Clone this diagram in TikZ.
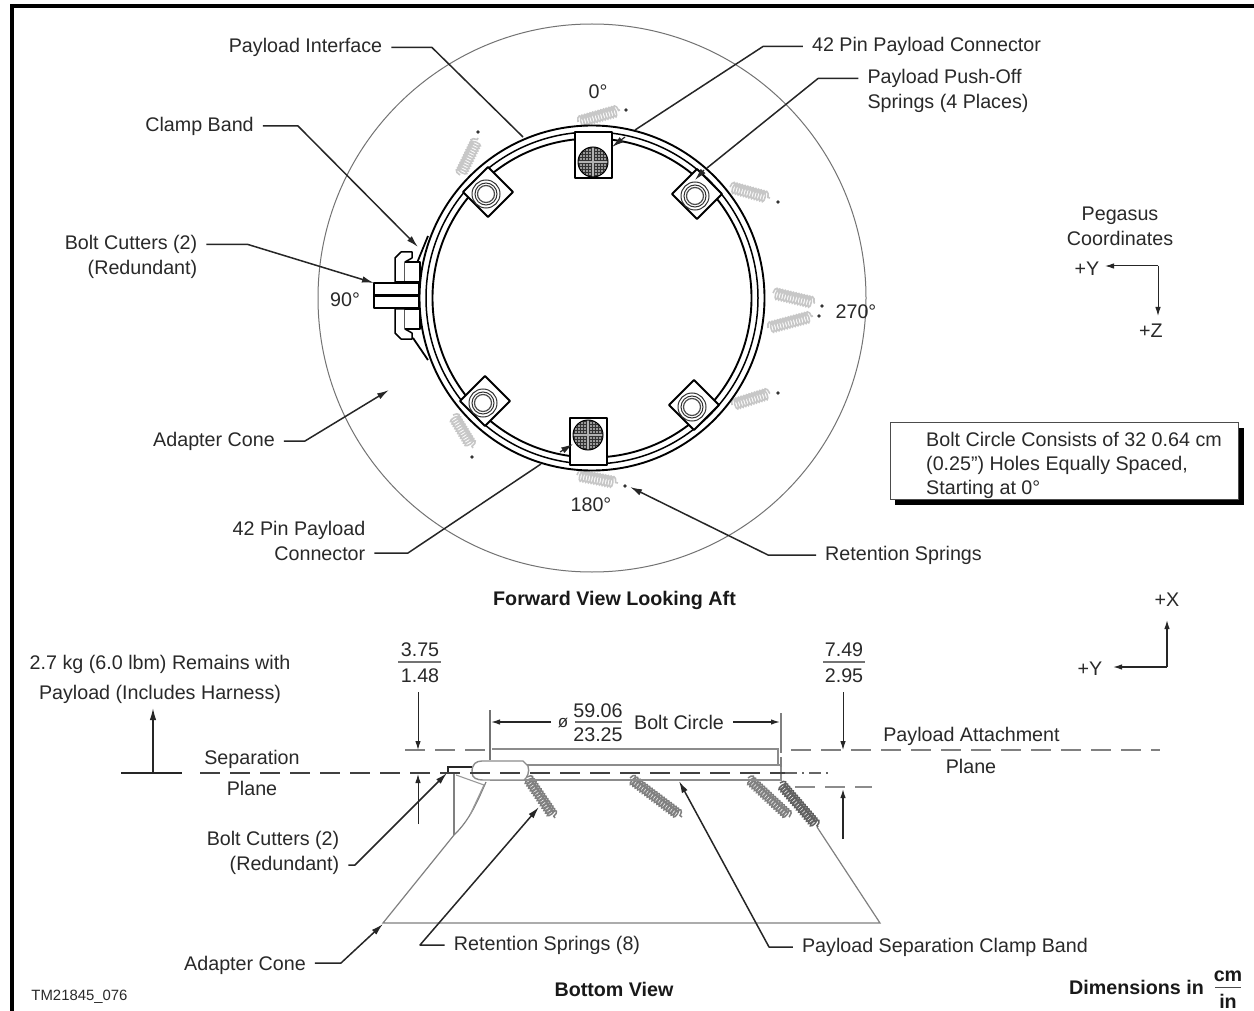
\documentclass[tikz,border=0pt]{standalone}
\usepackage{fontspec}
\setmainfont{Liberation Sans}
\usetikzlibrary{arrows.meta,decorations.pathmorphing}
\definecolor{ink}{gray}{0.16}
\definecolor{coil}{gray}{0.78}
\tikzset{
  x=1pt,y=-1pt,
  lbl/.style={inner ysep=0pt,inner xsep=9pt,text=ink,align=center,font=\fontsize{19.7}{25}\selectfont},
  bld/.style={inner ysep=0pt,inner xsep=0pt,text=black!90,align=center,font=\bfseries\fontsize{19.7}{25}\selectfont},
  lead/.style={draw=black!85,line width=1.5pt,line join=round},
  ar/.style={lead,-{Latex[length=12pt,width=6.5pt]}},
  thinar/.style={draw=black!85,line width=1pt,-{Latex[length=9pt,width=5.5pt]}},
  ringl/.style={draw=black,line width=1.9pt},
  part/.style={draw=black,line width=1.8pt,fill=white,line join=round},
  lightl/.style={draw=black!45,line width=1.4pt},
  spr/.style={draw=coil,line width=1.6pt,decorate,decoration={coil,aspect=0.4,segment length=2.8pt,amplitude=5.5pt}},
  sprb/.style={draw=black!50,line width=1.5pt,decorate,decoration={coil,aspect=0.4,segment length=3pt,amplitude=5pt}},
  dashk/.style={draw=black!75,line width=1.9pt,dash pattern=on 20pt off 10pt},
  dashg/.style={draw=black!50,line width=1.4pt,dash pattern=on 20pt off 10pt},
  sdot/.style={fill=black!80,draw=none}
}
\newcommand{\rotpad}[2]{%
  \draw[part] (#1-25,#2) -- (#1,#2-25) -- (#1+25,#2) -- (#1,#2+25) -- cycle;
  \draw[draw=black!80,line width=1pt] (#1-2,#2+2) circle[radius=14pt] circle[radius=11pt];
  \draw[draw=black!70,line width=1.2pt] (#1-2,#2+2) circle[radius=8.5pt];
}
\newcommand{\connpad}[6]{%
  \draw[part] (#1,#2) rectangle (#3,#4);
  \begin{scope}
    \clip (#5,#6) circle[radius=15pt];
    \fill[black!40] (#5,#6) circle[radius=15pt];
    \foreach \d in {-14,-11,...,14} {
      \draw[black!80,line width=0.9pt] (#5+\d,#6-16) -- (#5+\d,#6+16);
      \draw[black!80,line width=0.9pt] (#5-16,#6+\d) -- (#5+16,#6+\d);
    }
    \draw[white!70!black,line width=1.2pt] (#5,#6-16) -- (#5,#6+16) (#5-16,#6) -- (#5+16,#6);
  \end{scope}
  \draw[black,line width=1pt] (#5,#6) circle[radius=15pt];
}
\begin{document}
\begin{tikzpicture}
\useasboundingbox (0,0) rectangle (1254,1011);
\fill[white] (0,0) rectangle (1254,1011);
% frame
\draw[black,line width=4.5pt] (12,1011) -- (12,6) -- (1254,6);

% --------- forward view ---------
\coordinate (rc) at (592,298);
\node[draw=black!55,line width=1pt,circle,minimum size=548pt,inner sep=0pt] (cone) at (rc) {};
% springs
\foreach \a/\b/\c/\d/\e/\f in {
  578/122/620/110/626/110,
  460/175/478/138/478/132,
  730/187/770/198/778/202,
  773/293/815/303/822/306,
  768/328/813/316/819/316,
  732/405/770/393/778/393,
  453/415/473/448/472/457,
  577/475/618/483/625/486} {
  \draw[spr] (\a,\b) -- (\c,\d);
  \fill[sdot] (\e,\f) circle[radius=1.8pt];
}
% rings
\draw[ringl] (rc) circle[radius=172.5pt];
\draw[ringl,line width=1.5pt] (rc) circle[radius=166pt];
\draw[ringl] (rc) circle[radius=159.5pt];
% pads
\rotpad{488}{192}
\rotpad{697}{194}
\rotpad{694}{405}
\rotpad{485}{401}
\connpad{575}{132}{612}{178}{593}{162}
\connpad{570}{418}{607}{465}{588}{435}
% bolt cutters
\draw[part,line width=1.8pt] (417,263) -- (428,236) (413,338) -- (428,360);
\draw[part,line width=1.5pt] (395,282) -- (395,258) -- (401,252) -- (412,252) -- (412,258) -- (405,262) -- (405,282) -- cycle;
\draw[part,line width=1.5pt] (405,262) -- (420,262) -- (420,282) -- (405,282);
\draw[part,line width=1.5pt] (395,309) -- (395,333) -- (401,339) -- (412,339) -- (412,333) -- (405,329) -- (405,309) -- cycle;
\draw[part,line width=1.5pt] (405,329) -- (420,329) -- (420,309) -- (405,309);
\draw[part] (374,283) rectangle (419,308);
\draw[black,line width=3.5pt] (374,295.5) -- (419,295.5);
% coordinates at which leaders end
\coordinate (tcutter) at (374,283);
\coordinate (tclamp) at (418,247);
\coordinate (tcone) at (389,390);
\coordinate (tcon1a) at (635,130);
\coordinate (tcon1b) at (625,137);
\coordinate (tcon1) at (612,147);
\coordinate (tpush) at (707,168);
\coordinate (tpushb) at (704,170);
\coordinate (tpushc) at (695,180);
\coordinate (tint) at (523,137);
\coordinate (tcon2a) at (541,464);
\coordinate (tcon2b) at (560,452);
\coordinate (tcon2) at (573,444);
\coordinate (tret) at (630,487);
% labels
\node[lbl] (pi) at (305.5,47.5) {Payload Interface};
\node[lbl] (p42) at (926.5,46.5) {42 Pin Payload Connector};
\node[lbl,align=left] (push) at (948,91) {Payload Push-Off\\Springs (4 Places)};
\node[lbl] (cb) at (199.5,126) {Clamp Band};
\node[lbl,align=right] (bc) at (131,257) {Bolt Cutters (2)\\(Redundant)};
\node[lbl] (ac) at (214,441) {Adapter Cone};
\node[lbl,align=right] (c42) at (299,540.5) {42 Pin Payload\\Connector};
\node[lbl] (rs) at (903.5,555) {Retention Springs};
\node[lbl] (d0) at (598,92) {0°};
\node[lbl] (d90) at (345,300) {90°};
\node[lbl] (d270) at (856,312) {270°};
\node[lbl] (d180) at (591,505) {180°};
% leaders
\draw[lead] (pi.east) -- (432,47.5) -- (tint);
\draw[lead] (p42.west) -- (763,46.5) -- (tcon1a);
\draw[ar,line width=1.2pt] (tcon1b) -- (tcon1);
\draw[lead] ([yshift=12.5pt]push.west) -- (818,78.5) -- (tpush);
\draw[ar,line width=1.2pt] (tpushb) -- (tpushc);
\draw[ar] (cb.east) -- (298,126) -- (tclamp);
\draw[ar] ([yshift=12.5pt]bc.east) -- (248,244.5) -- (tcutter);
\draw[ar] (ac.east) -- (305,441) -- (tcone);
\draw[lead] ([yshift=-12.5pt]c42.east) -- (408,553) -- (tcon2a);
\draw[ar,line width=1.2pt] (tcon2b) -- (tcon2);
\draw[ar] (rs.west) -- (768,555) -- (tret);
\node[bld] (fv) at (614.5,600) {Forward View Looking Aft};

% coordinate legend 1
\node[lbl] (peg) at (1120,226.5) {Pegasus\\Coordinates};
\node[lbl,inner xsep=0pt] (y1) at (1087,269) {+Y};
\node[lbl,inner xsep=0pt] (z1) at (1151,331) {+Z};
\coordinate (k1) at (1158,266);
\coordinate (ky1) at (1105,266);
\coordinate (kz1) at (1158,316);
\draw[thinar] (k1) -- (ky1);
\draw[thinar] (k1) -- (kz1);
% note box
\fill[black] (895,428) rectangle (1244,505);
\node[draw=black!70,line width=1.2pt,fill=white,minimum width=348pt,minimum height=77pt,anchor=north west,inner sep=0pt] (box) at (890,422) {};
\node[lbl,inner xsep=0pt,align=left,anchor=west,font=\fontsize{19.7}{24}\selectfont] (boxt) at (926,465) {Bolt Circle Consists of 32 0.64 cm\\(0.25") Holes Equally Spaced,\\Starting at 0°};

% --------- bottom view ---------
\node[lbl,inner xsep=0pt,font=\fontsize{19.7}{30}\selectfont] (rem) at (160,679) {2.7 kg (6.0 lbm) Remains with\\Payload (Includes Harness)};
\node[lbl] (sep) at (252,759) {Separation};
\node[lbl] (sep2) at (252,788) {Plane};
\coordinate (s1) at (121,773);
\coordinate (s2) at (182,773);
\coordinate (s0) at (153,773);
\coordinate (s3) at (153,708);
\draw[lead] (s1) -- (s2);
\draw[ar] (s0) -- (s3);
% adapter cone
\draw[draw=black!50,line width=1.2pt] (454,835) -- (383,923) -- (880,923) -- (817,827);
\draw[draw=black!50,line width=1.2pt] (454,773) -- (454,835);
\draw[draw=black!50,line width=1.2pt] (454,835) .. controls (470,820) and (478,800) .. (486,782);
\draw[draw=black!40,line width=1.1pt] (456,775) -- (484,785) -- (470,815);
% springs
\draw[sprb] (527,777) -- (555,818);
\draw[sprb] (630,778) -- (682,817);
\draw[sprb] (748,778) -- (790,817);
\draw[sprb,draw=black!62] (780,783) -- (818,827);
% payload band
\draw[lightl] (492,749) -- (778,749) -- (778,765);
\draw[lightl] (527,765) -- (781,765) -- (781,780) -- (490,780);
\draw[lightl,fill=white] (472,772) .. controls (472,764) and (476,761) .. (482,761) -- (523,761) -- (528,766) .. controls (530,772) and (527,778) .. (524,780) -- (484,780) .. controls (476,780) and (472,778) .. (472,772) -- cycle;
\draw[black!85,line width=1.4pt] (448,773) -- (448,767) -- (472,767);
% planes
\draw[dashg] (405,750) -- (485,750);
\draw[dashg] (791,750) -- (1160,750);
\draw[dashk] (200,773) -- (785,773);
\draw[draw=black!60,line width=1.3pt,dash pattern=on 12pt off 5pt on 2pt off 5pt] (785,773) -- (830,773);
\draw[draw=black!45,line width=1.6pt,dash pattern=on 20pt off 10pt] (795,787) -- (872,787);
% plane dims
\node[lbl,inner xsep=0pt] (a1) at (420,650) {3.75};
\node[lbl,inner xsep=0pt] (a2) at (420,676) {1.48};
\draw[draw=black!55,line width=1.2pt] (398,662) -- (441,662);
\node[lbl,inner xsep=0pt] (b1) at (844,650) {7.49};
\node[lbl,inner xsep=0pt] (b2) at (844,676) {2.95};
\draw[draw=black!55,line width=1.2pt] (823,662) -- (865,662);
\coordinate (da1) at (418,692);
\coordinate (da2) at (418,750);
\coordinate (da3) at (418,824);
\coordinate (da4) at (418,774);
\coordinate (db1) at (843,692);
\coordinate (db2) at (843,750);
\coordinate (db3) at (843,839);
\coordinate (db4) at (843,789);
\draw[thinar] (da1) -- (da2);
\draw[thinar] (da3) -- (da4);
\draw[thinar] (db1) -- (db2);
\draw[thinar,line width=1.3pt] (db3) -- (db4);
% bolt circle dim
\node[lbl,inner xsep=0pt] (o) at (563,723) {\fontsize{17}{17}\selectfont ø};
\node[lbl,inner xsep=0pt] (c1) at (598,711) {59.06};
\node[lbl,inner xsep=0pt] (c2) at (598,735) {23.25};
\draw[draw=black!60,line width=1.2pt] (575,722) -- (622,722);
\node[lbl] (bolt) at (679,722) {Bolt Circle};
\draw[draw=black!55,line width=2pt] (490,710) -- (490,760);
\draw[draw=black!50,line width=1.4pt,dash pattern=on 40pt off 4pt on 12pt off 2pt] (781,713) -- (781,767);
\coordinate (bl) at (491,722);
\coordinate (br) at (780,722);
\coordinate (bs) at (551,722);
\draw[thinar,line width=1.3pt] (bs) -- (bl);
\draw[thinar,line width=1.3pt] (bolt.east) -- (br);
% legend 2
\node[lbl,inner xsep=0pt] (x2) at (1167,600) {+X};
\node[lbl,inner xsep=0pt] (y2) at (1090,669) {+Y};
\coordinate (k2) at (1167,667);
\coordinate (kx2) at (1167,620);
\coordinate (ky2) at (1113,667);
\draw[thinar,line width=1.3pt] (k2) -- (kx2);
\draw[thinar,line width=1.3pt] (k2) -- (ky2);
\node[lbl] (pa) at (971.5,736) {Payload Attachment};
\node[lbl] (pl) at (971,766) {Plane};
% bottom labels
\node[lbl,align=right] (bc2) at (273,852.5) {Bolt Cutters (2)\\(Redundant)};
\node[lbl] (rs8) at (547,945) {Retention Springs (8)};
\node[lbl] (psb) at (945,947) {Payload Separation Clamp Band};
\node[lbl] (ac2) at (245,965) {Adapter Cone};
\coordinate (tb1) at (447,773);
\coordinate (tb2) at (539,807);
\coordinate (tb3) at (679,781);
\coordinate (tb4) at (383,924);
\draw[ar] ([yshift=-12.5pt]bc2.east) -- (355,865) -- (tb1);
\draw[ar] (rs8.west) -- (420,945) -- (tb2);
\draw[ar] (psb.west) -- (769,947) -- (tb3);
\draw[ar] ([yshift=2pt]ac2.east) -- (341,963) -- (tb4);
\node[lbl,inner xsep=0pt,font=\fontsize{14.9}{15}\selectfont] (tm) at (79.5,997) {TM21845\_076};
\node[bld] (bv) at (614,989) {Bottom View};
\node[bld,anchor=east] (dim) at (1204,987) {Dimensions in};
\node[bld] (u1) at (1228,976) {cm};
\node[bld] (u2) at (1228,1001) {in};
\draw[draw=black!70,line width=1.2pt] (1215,987.5) -- (1241,987.5);
\end{tikzpicture}
\end{document}
